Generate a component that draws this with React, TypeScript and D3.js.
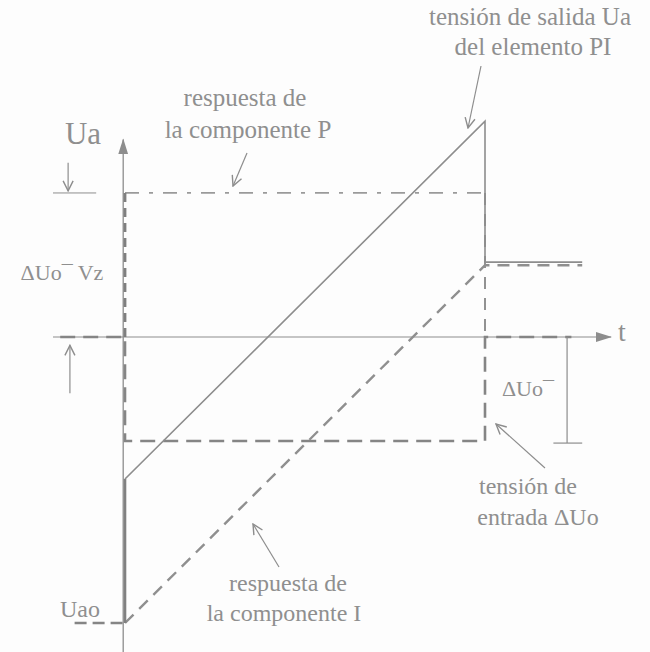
import React from 'react';
import * as d3 from 'd3';

const W = 650;
const H = 652;

// t in units of the step duration, v in units of the input step ΔUo
const Vz = 1.385; // proportional gain (P jump)
const Ti = 3.44; // integral slope per unit time
const Uao = -2.75; // initial output level

const inputStep = [[-0.18, 0], [0, 0], [0, -1], [1, -1], [1, 0], [1.24, 0]];
const pTop = [[0, Vz], [1, Vz]];
const pLeft = [[0, 0], [0, Vz]];
const pRight = [[1, Vz], [1, 0]];
const iResponse = [[0, Uao], [1, Uao + Ti], [1.27, Uao + Ti]];
const uaoBefore = [[-0.14, Uao], [0, Uao]];
const outputJump = [[0, Uao], [0, Uao + Vz]];
const outputRamp = [[0, Uao + Vz], [1, Uao + Vz + Ti], [1, Uao + Ti + 0.03], [1.27, Uao + Ti + 0.03]];

const tAxis = [-0.2, 1.35];
const vAxis = [-3.05, 1.9];

const INK = '#8d8d8d';
const TXT = '#8f8f8f';
const SERIF = 'Liberation Serif, DejaVu Serif, Times New Roman, serif';

export default function App() {
  const x = d3.scaleLinear().domain([0, 1]).range([125, 485]);
  const y = d3.scaleLinear().domain([0, -1]).range([337, 441]);
  const line = d3.line<number[]>().x(d => x(d[0])).y(d => y(d[1]));

  return (
    <svg width={W} height={H} style={{position: 'absolute', top: 0, left: 0, background: '#fdfdfd'}}>
      <defs>
        <marker id="tri" markerUnits="userSpaceOnUse" markerWidth="16" markerHeight="12" viewBox="0 0 16 12"
          refX="15" refY="6" orient="auto">
          <path d="M0,1 L16,6 L0,11 Z" fill={INK} />
        </marker>
        <marker id="vee" markerUnits="userSpaceOnUse" markerWidth="12" markerHeight="12" viewBox="0 0 12 12"
          refX="11" refY="6" orient="auto">
          <path d="M1,1 L11,6 L1,11" fill="none" stroke={INK} strokeWidth={1.4} />
        </marker>
      </defs>

      {/* axes */}
      <line x1={x(-0.005)} x2={x(-0.005)} y1={y(vAxis[0])} y2={y(vAxis[1])} stroke={INK} strokeWidth={1.3} markerEnd="url(#tri)" />
      <line x1={x(tAxis[0])} x2={x(tAxis[1])} y1={y(0)} y2={y(0)} stroke={INK} strokeWidth={1.1} markerEnd="url(#tri)" />

      {/* input step ΔUo */}
      <path d={line(inputStep)!} fill="none" stroke="#858585" strokeWidth={2.6} strokeDasharray="15,8" />
      {/* P component */}
      <path d={line(pTop)!} fill="none" stroke="#9a9a9a" strokeWidth={1.8} strokeDasharray="14,10,4,10" />
      <path d={line(pLeft)!} fill="none" stroke="#7f7f7f" strokeWidth={2.8} strokeDasharray="9,6" />
      <path d={line(pRight)!} fill="none" stroke="#929292" strokeWidth={2} strokeDasharray="12,9" />
      {/* I component */}
      <path d={line(iResponse)!} fill="none" stroke="#8f8f8f" strokeWidth={2.4} strokeDasharray="12,8" />
      <path d={line(uaoBefore)!} fill="none" stroke="#858585" strokeWidth={2.6} strokeDasharray="12,6" />
      {/* output Ua */}
      <path d={line(outputJump)!} fill="none" stroke="#808080" strokeWidth={2.6} />
      <path d={line(outputRamp)!} fill="none" stroke={INK} strokeWidth={1.6} />

      {/* dimension markers left */}
      <line x1={x(-0.2)} x2={x(-0.08)} y1={y(Vz)} y2={y(Vz)} stroke={INK} strokeWidth={1} />
      <line x1={x(-0.158)} x2={x(-0.158)} y1={y(Vz + 0.29)} y2={y(Vz + 0.02)} stroke={INK} strokeWidth={1.2} markerEnd="url(#vee)" />
      <line x1={x(-0.153)} x2={x(-0.153)} y1={y(-0.54)} y2={y(-0.08)} stroke={INK} strokeWidth={1.2} markerEnd="url(#vee)" />

      {/* bracket right */}
      <line x1={x(1.228)} x2={x(1.228)} y1={y(0)} y2={y(-1.02)} stroke={INK} strokeWidth={1.2} />
      <line x1={x(1.19)} x2={x(1.27)} y1={y(-1.02)} y2={y(-1.02)} stroke={INK} strokeWidth={1.2} />

      {/* label arrows */}
      <line x1={247} y1={153} x2={233} y2={186} stroke={INK} strokeWidth={1.2} markerEnd="url(#vee)" />
      <line x1={481} y1={66} x2={468} y2={128} stroke={INK} strokeWidth={1.2} markerEnd="url(#vee)" />
      <line x1={545} y1={468} x2={496} y2={424} stroke={INK} strokeWidth={1.2} markerEnd="url(#vee)" />
      <line x1={279} y1={567} x2={253} y2={524} stroke={INK} strokeWidth={1.2} markerEnd="url(#vee)" />

      {/* texts */}
      <g fontFamily={SERIF} fill={TXT} textAnchor="middle" dominantBaseline="central">
        <text x={83} y={133} fontSize={31}>Ua</text>
        <text x={622} y={331} fontSize={28}>t</text>
        <text x={245} y={97} fontSize={25}>respuesta de</text>
        <text x={248} y={129} fontSize={25}>la componente P</text>
        <text x={530} y={16} fontSize={25}>tensión de salida Ua</text>
        <text x={533} y={46} fontSize={25}>del elemento PI</text>
        <text x={62} y={272} fontSize={22}>ΔUo¯ Vz</text>
        <text x={528} y={388} fontSize={22}>ΔUo¯</text>
        <text x={528} y={486} fontSize={24}>tensión de</text>
        <text x={538} y={517} fontSize={24}>entrada ΔUo</text>
        <text x={288} y={583} fontSize={24}>respuesta de</text>
        <text x={284} y={613} fontSize={24}>la componente I</text>
        <text x={80} y={609} fontSize={24}>Uao</text>
      </g>
    </svg>
  );
}
